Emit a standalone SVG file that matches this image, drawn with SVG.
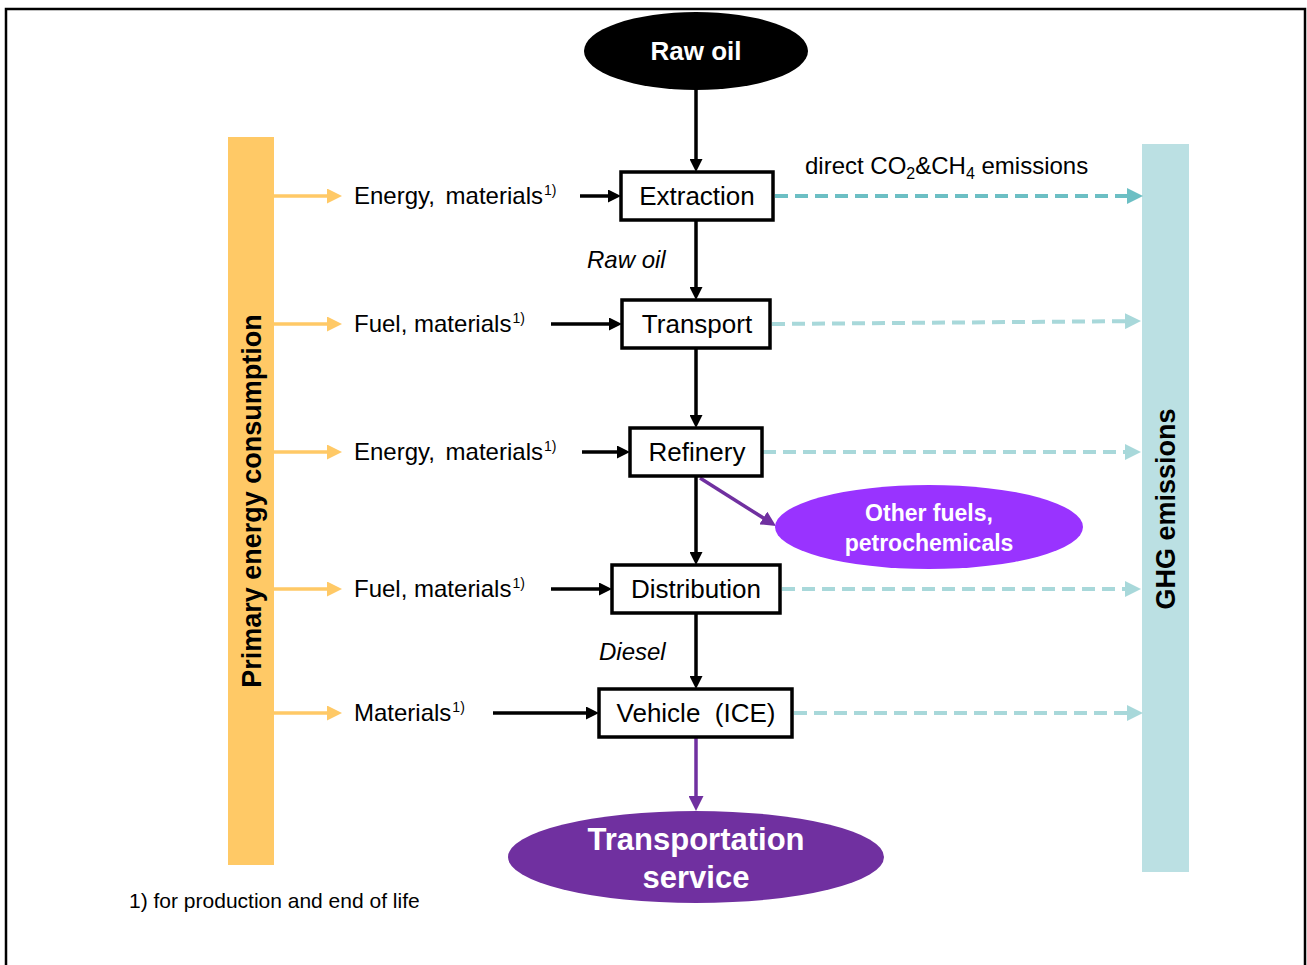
<svg xmlns="http://www.w3.org/2000/svg" width="1307" height="965" viewBox="0 0 1307 965">
<style>
.t{font-family:"Liberation Sans",Arial,sans-serif;fill:#000}
.box{fill:#fff;stroke:#000;stroke-width:3.5}
.bl{font-size:26px}
.lab{font-size:24px}
.sup{font-size:14px}
.wb{font-family:"Liberation Sans",Arial,sans-serif;font-weight:bold;fill:#fff}
.ab{stroke:#000;stroke-width:3.5;fill:none}
.ao{stroke:#ffc966;stroke-width:3.5;fill:none}
.ap{stroke:#7030a0;stroke-width:3.5;fill:none}
.td{stroke:#6cbfc4;stroke-width:4;stroke-dasharray:13 7;fill:none}
.tl{stroke:#a8d8da;stroke-width:4;stroke-dasharray:13 7;fill:none}
</style>
<defs>
<marker id="mb" viewBox="0 0 10 10" refX="3" refY="5" markerWidth="13" markerHeight="13" markerUnits="userSpaceOnUse" orient="auto"><path d="M0,0 L10,5 L0,10 z" fill="#000"/></marker>
<marker id="mo" viewBox="0 0 10 10" refX="3" refY="5" markerWidth="15" markerHeight="15" markerUnits="userSpaceOnUse" orient="auto"><path d="M0,0 L10,5 L0,10 z" fill="#ffc966"/></marker>
<marker id="mp" viewBox="0 0 10 10" refX="3" refY="5" markerWidth="15" markerHeight="15" markerUnits="userSpaceOnUse" orient="auto"><path d="M0,0 L10,5 L0,10 z" fill="#7030a0"/></marker>
<marker id="mtd" viewBox="0 0 10 10" refX="3" refY="5" markerWidth="16" markerHeight="16" markerUnits="userSpaceOnUse" orient="auto"><path d="M0,0 L10,5 L0,10 z" fill="#6cbfc4"/></marker>
<marker id="mtl" viewBox="0 0 10 10" refX="3" refY="5" markerWidth="16" markerHeight="16" markerUnits="userSpaceOnUse" orient="auto"><path d="M0,0 L10,5 L0,10 z" fill="#a8d8da"/></marker>
</defs>
<rect x="0" y="0" width="1307" height="965" fill="#fff"/>
<rect id="frame" x="6" y="9" width="1299" height="1000" fill="none" stroke="#000" stroke-width="2.5"/>

<g id="primary-energy">
<rect x="228" y="137" width="46" height="728" fill="#ffc966"/>
<text class="t" transform="translate(261,501) rotate(-90)" text-anchor="middle" font-size="27" font-weight="bold">Primary energy consumption</text>
</g>
<g id="ghg-emissions">
<rect x="1142" y="144" width="47" height="728" fill="#bbe0e3"/>
<text class="t" transform="translate(1175,509) rotate(-90)" text-anchor="middle" font-size="27" font-weight="bold">GHG emissions</text>
</g>

<g id="connectors">
<line class="ab" x1="696" y1="90" x2="696" y2="162.9" marker-end="url(#mb)"/>
<line class="ab" x1="696" y1="220" x2="696" y2="290.9" marker-end="url(#mb)"/>
<line class="ab" x1="696" y1="348" x2="696" y2="418.9" marker-end="url(#mb)"/>
<line class="ab" x1="696" y1="476" x2="696" y2="555.9" marker-end="url(#mb)"/>
<line class="ab" x1="696" y1="613" x2="696" y2="679.9" marker-end="url(#mb)"/>
<line class="ap" x1="696" y1="737" x2="696" y2="800.5" marker-end="url(#mp)"/>
<line class="ap" x1="700" y1="478" x2="767.1" y2="520.4" marker-end="url(#mp)"/>

<line class="ab" x1="580" y1="196" x2="611.9" y2="196" marker-end="url(#mb)"/>
<line class="ab" x1="551" y1="324" x2="612.9" y2="324" marker-end="url(#mb)"/>
<line class="ab" x1="582" y1="452" x2="620.9" y2="452" marker-end="url(#mb)"/>
<line class="ab" x1="551" y1="589" x2="602.9" y2="589" marker-end="url(#mb)"/>
<line class="ab" x1="493" y1="713" x2="589.9" y2="713" marker-end="url(#mb)"/>

<line class="ao" x1="274" y1="196" x2="331.5" y2="196" marker-end="url(#mo)"/>
<line class="ao" x1="274" y1="324" x2="331.5" y2="324" marker-end="url(#mo)"/>
<line class="ao" x1="274" y1="452" x2="331.5" y2="452" marker-end="url(#mo)"/>
<line class="ao" x1="274" y1="589" x2="331.5" y2="589" marker-end="url(#mo)"/>
<line class="ao" x1="274" y1="713" x2="331.5" y2="713" marker-end="url(#mo)"/>

<line class="td" x1="775" y1="196" x2="1131.8" y2="196" marker-end="url(#mtd)"/>
<line class="tl" x1="772" y1="324" x2="1129.8" y2="321.1" marker-end="url(#mtl)"/>
<line class="tl" x1="763" y1="452" x2="1129.8" y2="452" marker-end="url(#mtl)"/>
<line class="tl" x1="782" y1="589" x2="1129.8" y2="589" marker-end="url(#mtl)"/>
<line class="tl" x1="794" y1="713" x2="1131.8" y2="713" marker-end="url(#mtl)"/>
</g>

<g id="raw-oil">
<ellipse cx="696" cy="51" rx="112" ry="39" fill="#000"/>
<text class="wb" x="696" y="60" text-anchor="middle" font-size="26">Raw oil</text>
</g>
<g id="extraction">
<rect class="box" x="621" y="172" width="152" height="48"/>
<text class="t bl" x="697" y="205" text-anchor="middle">Extraction</text>
</g>
<g id="transport">
<rect class="box" x="622" y="300" width="148" height="48"/>
<text class="t bl" x="697" y="333" text-anchor="middle">Transport</text>
</g>
<g id="refinery">
<rect class="box" x="630" y="428" width="132" height="48"/>
<text class="t bl" x="697" y="461" text-anchor="middle">Refinery</text>
</g>
<g id="distribution">
<rect class="box" x="612" y="565" width="168" height="48"/>
<text class="t bl" x="696" y="598" text-anchor="middle">Distribution</text>
</g>
<g id="vehicle">
<rect class="box" x="599" y="689" width="193" height="48"/>
<text class="t bl" x="696" y="722" text-anchor="middle" xml:space="preserve">Vehicle  (ICE)</text>
</g>
<g id="other-fuels">
<ellipse cx="929" cy="527" rx="154" ry="42" fill="#9933ff"/>
<text class="wb" x="929" y="521" text-anchor="middle" font-size="23">Other fuels,</text>
<text class="wb" x="929" y="551" text-anchor="middle" font-size="23">petrochemicals</text>
</g>
<g id="transportation-service">
<ellipse cx="696" cy="857" rx="188" ry="46" fill="#7030a0"/>
<text class="wb" x="696" y="850" text-anchor="middle" font-size="31">Transportation</text>
<text class="wb" x="696" y="888" text-anchor="middle" font-size="31">service</text>
</g>

<g id="labels">
<text class="t lab" x="354" y="204" word-spacing="4">Energy, materials<tspan class="sup" dx="1" dy="-9">1)</tspan></text>
<text class="t lab" x="354" y="332">Fuel, materials<tspan class="sup" dx="1" dy="-9">1)</tspan></text>
<text class="t lab" x="354" y="460" word-spacing="4">Energy, materials<tspan class="sup" dx="1" dy="-9">1)</tspan></text>
<text class="t lab" x="354" y="597">Fuel, materials<tspan class="sup" dx="1" dy="-9">1)</tspan></text>
<text class="t lab" x="354" y="721">Materials<tspan class="sup" dx="1" dy="-9">1)</tspan></text>
<text class="t lab" x="587" y="268" font-style="italic">Raw oil</text>
<text class="t lab" x="599" y="660" font-style="italic">Diesel</text>
<text class="t" x="805" y="174" font-size="24">direct CO<tspan font-size="16" dy="5">2</tspan><tspan dy="-5">&amp;CH</tspan><tspan font-size="16" dy="5">4</tspan><tspan dy="-5"> emissions</tspan></text>
<text class="t" x="129" y="908" font-size="21">1) for production and end of life</text>
</g>
</svg>
